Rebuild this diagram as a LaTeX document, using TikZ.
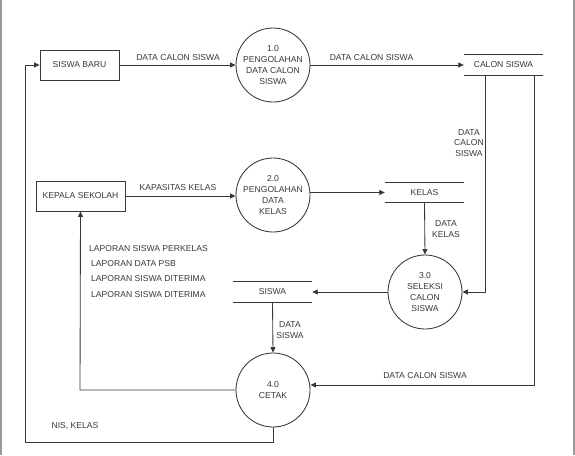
\documentclass[tikz,border=0pt]{standalone}
\usepackage{fontspec}
\setmainfont{Liberation Sans}
\usetikzlibrary{arrows.meta}
\definecolor{ln}{HTML}{383838}
\definecolor{frm}{HTML}{9A9A9A}
\begin{document}
\begin{tikzpicture}[x=1pt,y=-1pt,
  every node/.style={font=\fontsize{8.6}{10.8}\selectfont, text=ln},
  ent/.style={draw=ln, line width=0.85pt, minimum height=30pt, inner sep=0pt},
  proc/.style={draw=ln, line width=0.85pt, circle, minimum size=74pt, inner sep=0pt, align=center},
  store/.style={minimum height=20pt, inner sep=0pt},
  flow/.style={draw=ln, line width=0.85pt, -{Triangle[length=5.5pt,width=5pt]}},
  plain/.style={draw=ln, line width=0.85pt},
  lbl/.style={align=center, inner sep=0pt}]
\useasboundingbox (0,0) rectangle (575,455);
\draw[frm, line width=1.6pt] (0.8,0) -- (0.8,455);
\draw[frm, line width=1.6pt] (573.8,0) -- (573.8,455);

% entities
\node[ent, minimum width=79pt] (sb) at (79.5,65) {SISWA BARU};
\node[ent, minimum width=89pt] (ks) at (80.5,196) {KEPALA SEKOLAH};

% processes
\node[proc] (p1) at (273,65) {1.0\\PENGOLAHAN\\DATA CALON\\SISWA};
\node[proc] (p2) at (273,195) {2.0\\PENGOLAHAN\\DATA\\KELAS};
\node[proc] (p3) at (425,292) {3.0\\SELEKSI\\CALON\\SISWA};
\node[proc] (p4) at (273,390) {4.0\\CETAK};

% stores
\node[store, minimum width=79pt] (cs) at (503.5,65) {CALON SISWA};
\draw[plain] (cs.north west) -- (cs.north east) (cs.south west) -- (cs.south east);
\node[store, minimum width=79pt] (kl) at (424.5,192.5) {KELAS};
\draw[plain] (kl.north west) -- (kl.north east) (kl.south west) -- (kl.south east);
\node[store, minimum width=79pt] (sw) at (272.5,292) {SISWA};
\draw[plain] (sw.north west) -- (sw.north east) (sw.south west) -- (sw.south east);

% flows
\draw[flow] (sb.east) -- (p1.west);
\node[lbl] at (178,58) {DATA CALON SISWA};
\draw[flow] (p1.east) -- (cs.west);
\node[lbl] at (371.5,58) {DATA CALON SISWA};

\draw[flow] (ks.east) -- (ks.east -| p2.west);
\node[lbl] at (178,188) {KAPASITAS KELAS};
\draw[flow] (p2.east |- kl.west) -- (kl.west);

\coordinate (c1) at (485,75);
\draw[flow] (c1) |- (p3.east);
\node[lbl] at (469,143) {DATA\\CALON\\SISWA};

\draw[flow] (kl.south) -- (p3.north);
\node[lbl] at (446,229) {DATA\\KELAS};

\draw[flow] (p3.west) -- (sw.east);

\draw[flow] (sw.south) -- (p4.north);
\node[lbl] at (290,330) {DATA\\SISWA};

\coordinate (c2) at (534,75);
\coordinate (c3) at (534,385);
\draw[flow] (c2) -- (c3) -- (c3 -| p4.east);
\node[lbl] at (425,376) {DATA CALON SISWA};

\coordinate (c4) at (80,390);
\draw[flow] (p4.west) -- (c4) -- (ks.south);
\node[lbl, anchor=west] at (89,249) {LAPORAN SISWA PERKELAS};
\node[lbl, anchor=west] at (91,264) {LAPORAN DATA PSB};
\node[lbl, anchor=west] at (91,279) {LAPORAN SISWA DITERIMA};
\node[lbl, anchor=west] at (91,295) {LAPORAN SISWA DITERIMA};

\coordinate (c5) at (273,442);
\coordinate (c6) at (25,442);
\draw[flow] (p4.south) -- (c5) -- (c6) |- (sb.west);
\node[lbl] at (75,426) {NIS, KELAS};
\end{tikzpicture}
\end{document}
